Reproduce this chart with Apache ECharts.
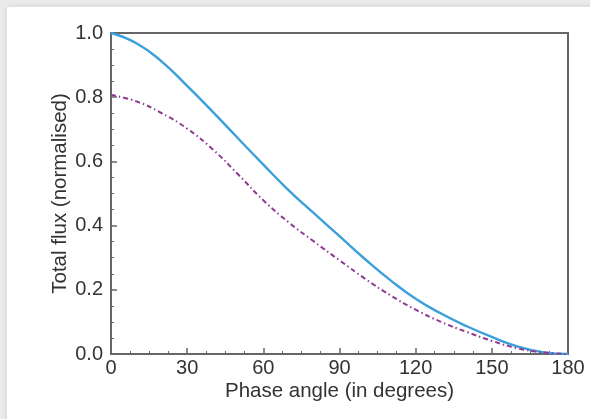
<!DOCTYPE html>
<html>
<head>
<meta charset="utf-8">
<script src="https://cdn.jsdelivr.net/npm/echarts@6/dist/echarts.min.js"></script>
<style>html,body{margin:0;padding:0;background:#fff;}#c{width:590px;height:419px;}</style>
</head>
<body>
<div id="c"></div>
<script>
const angles = [0, 10, 20, 30, 40, 50, 60, 70, 80, 90, 100, 110, 120, 130, 140, 150, 160, 170, 180];
const solidFlux = [1.0, 0.968, 0.911, 0.835, 0.755, 0.672, 0.59, 0.51, 0.438, 0.367, 0.296, 0.23, 0.172, 0.126, 0.087, 0.053, 0.024, 0.006, 0.0];
const dashedFlux = [0.807, 0.787, 0.75, 0.702, 0.638, 0.56, 0.479, 0.41, 0.35, 0.292, 0.235, 0.183, 0.138, 0.1, 0.069, 0.041, 0.018, 0.005, 0.0];
const xTicks = [0, 30, 60, 90, 120, 150, 180];
const yTicks = [0.0, 0.2, 0.4, 0.6, 0.8, 1.0];

const chart = echarts.init(document.getElementById('c'));
const axisColor = '#666';
const textColor = '#333';
const font = 'Liberation Sans, Arial, sans-serif';
chart.setOption({
  backgroundColor: '#ebebeb',
  animation: false,
  graphic: [{
    type: 'rect', left: 7, top: 7, z: -10,
    shape: { width: 600, height: 430 },
    style: { fill: '#fff', shadowBlur: 6, shadowColor: 'rgba(0,0,0,0.12)' }
  }],
  grid: { left: 111, right: 22, top: 33, bottom: 65 },
  xAxis: [{
    type: 'value', min: xTicks[0], max: xTicks[xTicks.length - 1], interval: 30,
    name: 'Phase angle (in degrees)', nameLocation: 'middle', nameGap: 27, nameMoveOverlap: false,
    nameTextStyle: { fontFamily: font, fontSize: 20.5, color: textColor },
    axisLine: { show: true, onZero: false, lineStyle: { color: axisColor, width: 2 } },
    axisTick: { show: true, inside: true, length: 6, lineStyle: { color: axisColor, width: 1.5 } },
    minorTick: { show: true, splitNumber: 4, length: 3, lineStyle: { color: axisColor, width: 1 } },
    axisLabel: { fontFamily: font, fontSize: 20, color: textColor, margin: 4 },
    splitLine: { show: false }
  }, {
    type: 'value', position: 'top', min: 0, max: 180,
    axisLine: { show: true, onZero: false, lineStyle: { color: axisColor, width: 2 } },
    axisTick: { show: false }, axisLabel: { show: false }, splitLine: { show: false }
  }],
  yAxis: [{
    type: 'value', min: yTicks[0], max: yTicks[yTicks.length - 1], interval: 0.2,
    name: 'Total flux (normalised)', nameLocation: 'middle', nameGap: 40, nameMoveOverlap: false,
    nameTextStyle: { fontFamily: font, fontSize: 20.5, color: textColor },
    axisLine: { show: true, onZero: false, lineStyle: { color: axisColor, width: 2 } },
    axisTick: { show: true, inside: true, length: 6, lineStyle: { color: axisColor, width: 1.5 } },
    minorTick: { show: true, splitNumber: 4, length: 3, lineStyle: { color: axisColor, width: 1 } },
    axisLabel: { fontFamily: font, fontSize: 20, color: textColor, margin: 8, formatter: v => v.toFixed(1) },
    splitLine: { show: false }
  }, {
    type: 'value', position: 'right', min: 0, max: 1,
    axisLine: { show: true, onZero: false, lineStyle: { color: axisColor, width: 2 } },
    axisTick: { show: false }, axisLabel: { show: false }, splitLine: { show: false }
  }],
  series: [{
    type: 'line', smooth: true, symbol: 'none',
    data: angles.map((a, i) => [a, solidFlux[i]]),
    lineStyle: { color: '#3b9fdb', width: 2.4 }
  }, {
    type: 'line', smooth: true, symbol: 'none',
    data: angles.map((a, i) => [a, dashedFlux[i]]),
    lineStyle: { color: '#8e3a92', width: 2, type: [5, 3, 1.5, 3] }
  }]
});
</script>
</body>
</html>
